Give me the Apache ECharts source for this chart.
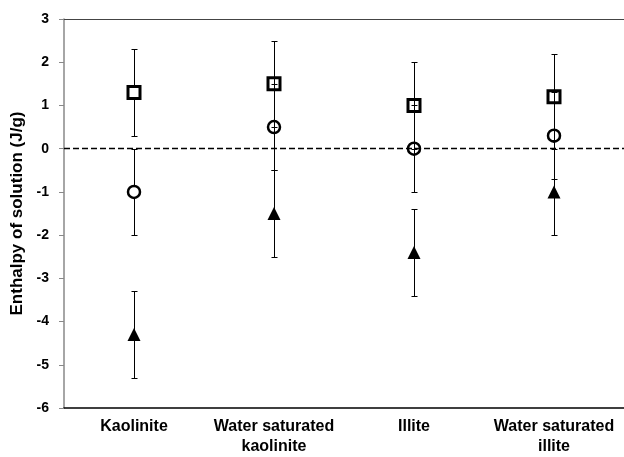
<!DOCTYPE html>
<html>
<head>
<meta charset="utf-8">
<script src="https://cdn.jsdelivr.net/npm/echarts@6/dist/echarts.min.js"></script>
<style>
  html, body { margin: 0; padding: 0; background: #fff; }
  #chart { width: 624px; height: 457px; }
</style>
</head>
<body>
<div id="chart"></div>
<script>
// categories (x axis)
const categories = ['Kaolinite', 'Water saturated\nkaolinite', 'Illite', 'Water saturated\nillite']

// enthalpy of solution (J/g)
const squareValues = [1.3, 1.5, 1.0, 1.2]
const circleValues = [-1.0, 0.5, 0.0, 0.3]
const triangleValues = [-4.3, -1.5, -2.4, -1.0]

// error bar half-widths
const squareErr = [1, 1, 1, 1]
const circleErr = [1, 1, 1, 1]
const triangleErr = [1, 1, 1, 1]

// y axis ticks
const yMin = -6
const yMax = 3
const yStep = 1
const refLine = 0

const font = '"Liberation Sans", Arial, sans-serif'

// 误差线：竖线 + 上下短横
function errorSeries(values, errs) {
  return {
    type: 'custom',
    silent: true,
    z: 1,
    data: values.map((v, i) => [i, v - errs[i], v + errs[i]]),
    renderItem(params, api) {
      const lo = api.coord([api.value(0), api.value(1)])
      const hi = api.coord([api.value(0), api.value(2)])
      const x = Math.round(lo[0]) + 0.5
      const y1 = Math.round(lo[1]) + 0.5
      const y2 = Math.round(hi[1]) + 0.5
      const cap = 3
      const style = { stroke: '#000', lineWidth: 1 }
      return {
        type: 'group',
        children: [
          { type: 'line', shape: { x1: x, y1: y1, x2: x, y2: y2 }, style },
          { type: 'line', shape: { x1: x - cap, y1: y1, x2: x + cap, y2: y1 }, style },
          { type: 'line', shape: { x1: x - cap, y1: y2, x2: x + cap, y2: y2 }, style },
        ],
      }
    },
  }
}

// 第一个类别的空心标记为白底，其余透明
const hollowFill = (p) => (p.dataIndex === 0 ? '#fff' : 'rgba(0,0,0,0)')

const chart = echarts.init(document.getElementById('chart'))

chart.setOption({
  animation: false,
  backgroundColor: '#fff',
  grid: {
    left: 64,
    right: 0,
    top: 19,
    bottom: 46,
  },
  xAxis: [
    {
      type: 'category',
      data: categories,
      axisLine: { onZero: false, lineStyle: { color: '#000', width: 1.5 } },
      axisTick: { show: false },
      axisLabel: {
        color: '#000',
        fontFamily: font,
        fontWeight: 'bold',
        fontSize: 16,
        lineHeight: 20,
        margin: 9,
        interval: 0,
      },
    },
    {
      type: 'category',
      data: categories,
      position: 'top',
      axisLine: { onZero: false, lineStyle: { color: '#444', width: 1.2 } },
      axisTick: { show: false },
      axisLabel: { show: false },
    },
  ],
  yAxis: {
    type: 'value',
    min: yMin,
    max: yMax,
    interval: yStep,
    name: 'Enthalpy of solution (J/g)',
    nameLocation: 'middle',
    nameGap: 36,
    nameTextStyle: {
      color: '#000',
      fontFamily: font,
      fontWeight: 'bold',
      fontSize: 17,
    },
    axisLine: { show: true, lineStyle: { color: '#888', width: 1.5 } },
    axisTick: { show: true, length: 5, lineStyle: { color: '#888' } },
    splitLine: { show: false },
    axisLabel: {
      color: '#000',
      fontFamily: font,
      fontWeight: 'bold',
      fontSize: 14,
      margin: 15,
    },
  },
  series: [
    errorSeries(squareValues, squareErr),
    errorSeries(circleValues, circleErr),
    errorSeries(triangleValues, triangleErr),
    {
      name: 'square',
      type: 'scatter',
      z: 3,
      symbol: 'rect',
      symbolSize: 12,
      data: squareValues,
      itemStyle: { color: hollowFill, borderColor: '#000', borderWidth: 3, opacity: 1 },
      markLine: {
        silent: true,
        symbol: 'none',
        label: { show: false },
        lineStyle: { color: '#000', type: [6, 3], width: 1.3, opacity: 1 },
        data: [{ yAxis: refLine }],
      },
    },
    {
      name: 'circle',
      type: 'scatter',
      z: 3,
      symbol: 'circle',
      symbolSize: 12,
      data: circleValues,
      itemStyle: { color: hollowFill, borderColor: '#000', borderWidth: 2.5, opacity: 1 },
    },
    {
      name: 'triangle',
      type: 'scatter',
      z: 3,
      symbol: 'triangle',
      symbolSize: 13,
      data: triangleValues,
      itemStyle: { color: '#000', opacity: 1 },
    },
  ],
})
</script>
</body>
</html>
